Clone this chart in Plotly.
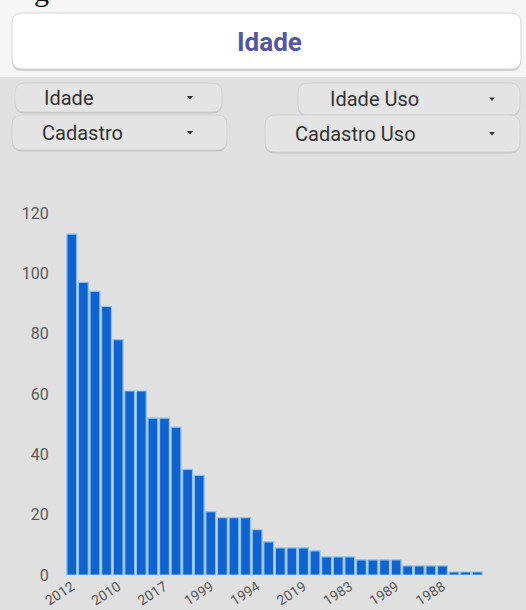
import plotly.graph_objects as go

# Number of records per year, sorted by count
years = [
    "2012", "2014", "2011", "2013", "2010", "2015", "2009", "2016", "2017",
    "2008", "2018", "2005", "1999", "2000", "2003", "2007", "1994", "2001",
    "1998", "2006", "2019", "1995", "1997", "2002", "1983", "1990", "1992",
    "2004", "1989", "1985", "1993", "1996", "1988", "1980", "1986", "1991",
]
counts = [
    113, 97, 94, 89, 78, 61, 61, 52, 52,
    49, 35, 33, 21, 19, 19, 19, 15, 11,
    9, 9, 9, 8, 6, 6, 6, 5, 5,
    5, 5, 3, 3, 3, 3, 1, 1, 1,
]
shown_years = years[::4]
y_ticks = [0, 20, 40, 60, 80, 100, 120]

title_text = "Idade"
menus = [
    ("Idade", 15, 222, 83, 112, 42, 190),
    ("Idade Uso", 298, 520, 83, 115, 328, 492),
    ("Cadastro", 12, 227, 115, 150, 40, 190),
    ("Cadastro Uso", 265, 520, 115, 152, 293, 492),
]

W, H = 526, 610
L, R, T, B = 66, 483, 213, 575


def to_paper(x, y):
    return (x - L) / (R - L), (B - y) / (B - T)


def rounded_rect(x0, y0, x1, y1, r):
    rx = r / (R - L)
    ry = r / (B - T)
    a0, b1 = to_paper(x0, y0)
    a1, b0 = to_paper(x1, y1)
    return (
        f"M {a0+rx},{b1} L {a1-rx},{b1} Q {a1},{b1} {a1},{b1-ry} "
        f"L {a1},{b0+ry} Q {a1},{b0} {a1-rx},{b0} "
        f"L {a0+rx},{b0} Q {a0},{b0} {a0},{b0+ry} "
        f"L {a0},{b1-ry} Q {a0},{b1} {a0+rx},{b1} Z"
    )


fig = go.Figure(
    go.Bar(
        x=years,
        y=counts,
        marker=dict(color="#1063cf", line=dict(color="#8cc3f2", width=1.2)),
        hoverinfo="x+y",
    )
)

shapes = []
# light strip behind the header card
x0p, y0p = to_paper(0, 0)
x1p, y1p = to_paper(W, 77)
shapes.append(dict(type="rect", xref="paper", yref="paper", x0=x0p, x1=x1p,
                   y0=y1p, y1=y0p, fillcolor="#f6f6f6", line_width=0, layer="below"))
# header card
shapes.append(dict(type="path", xref="paper", yref="paper",
                   path=rounded_rect(12, 15, 521, 71, 10),
                   fillcolor="rgba(0,0,0,0.16)", line_width=0, layer="below"))
shapes.append(dict(type="path", xref="paper", yref="paper",
                   path=rounded_rect(12, 13, 521, 69, 10),
                   fillcolor="#ffffff", line=dict(color="#d6d6d6", width=1),
                   layer="below"))

annotations = [
    dict(text=f"<b>{title_text}</b>", xref="paper", yref="paper",
         x=to_paper(269, 42)[0], y=to_paper(269, 42)[1],
         xanchor="center", yanchor="middle", showarrow=False,
         font=dict(family="Roboto", size=26, color="#5656a0")),
    dict(text="g", xref="paper", yref="paper",
         x=to_paper(32, -10)[0], y=to_paper(32, -10)[1],
         xanchor="left", yanchor="middle", showarrow=False,
         font=dict(family="Liberation Serif", size=30, color="#111111")),
]

for label, mx0, mx1, my0, my1, tx, ax in menus:
    shapes.append(dict(type="path", xref="paper", yref="paper",
                       path=rounded_rect(mx0, my0 + 2, mx1, my1 + 1.5, 10),
                       fillcolor="rgba(0,0,0,0.13)", line_width=0, layer="below"))
    shapes.append(dict(type="path", xref="paper", yref="paper",
                       path=rounded_rect(mx0, my0, mx1, my1, 10),
                       fillcolor="#e4e4e4", line=dict(color="#d2d2d2", width=1),
                       layer="below"))
    cy = (my0 + my1) / 2
    px, py = to_paper(tx, cy)
    annotations.append(dict(text=label, xref="paper", yref="paper", x=px, y=py,
                            xanchor="left", yanchor="middle", showarrow=False,
                            font=dict(family="Roboto", size=20, color="#333333")))
    # dropdown caret
    a0, b0 = to_paper(ax - 3, cy - 1.5)
    a1, b1 = to_paper(ax + 3, cy - 1.5)
    a2, b2 = to_paper(ax, cy + 2)
    shapes.append(dict(type="path", xref="paper", yref="paper",
                       path=f"M {a0},{b0} L {a1},{b1} L {a2},{b2} Z",
                       fillcolor="#333333", line_width=0, layer="above"))

fig.update_layout(
    width=W,
    height=H,
    margin=dict(l=L, r=W - R, t=T, b=H - B, pad=0),
    paper_bgcolor="#e0e0e0",
    plot_bgcolor="#e0e0e0",
    bargap=0.15,
    showlegend=False,
    shapes=shapes,
    annotations=annotations,
    font=dict(family="Roboto", color="#5a5a5a"),
    xaxis=dict(
        type="category",
        range=[-0.5, len(years) - 0.5],
        tickmode="array",
        tickvals=shown_years,
        ticktext=shown_years,
        tickangle=-33,
        tickfont=dict(size=14, color="#5a5a5a"),
        showgrid=False,
        zeroline=False,
        showline=False,
        automargin=False,
        fixedrange=True,
    ),
    yaxis=dict(
        range=[0, 120],
        tickmode="array",
        tickvals=y_ticks,
        tickfont=dict(size=16, color="#5a5a5a"),
        ticks="outside",
        ticklen=13,
        tickcolor="rgba(0,0,0,0)",
        showgrid=False,
        zeroline=False,
        showline=False,
        automargin=False,
        fixedrange=True,
    ),
)

fig.write_html("out.html", config={"displayModeBar": False})
